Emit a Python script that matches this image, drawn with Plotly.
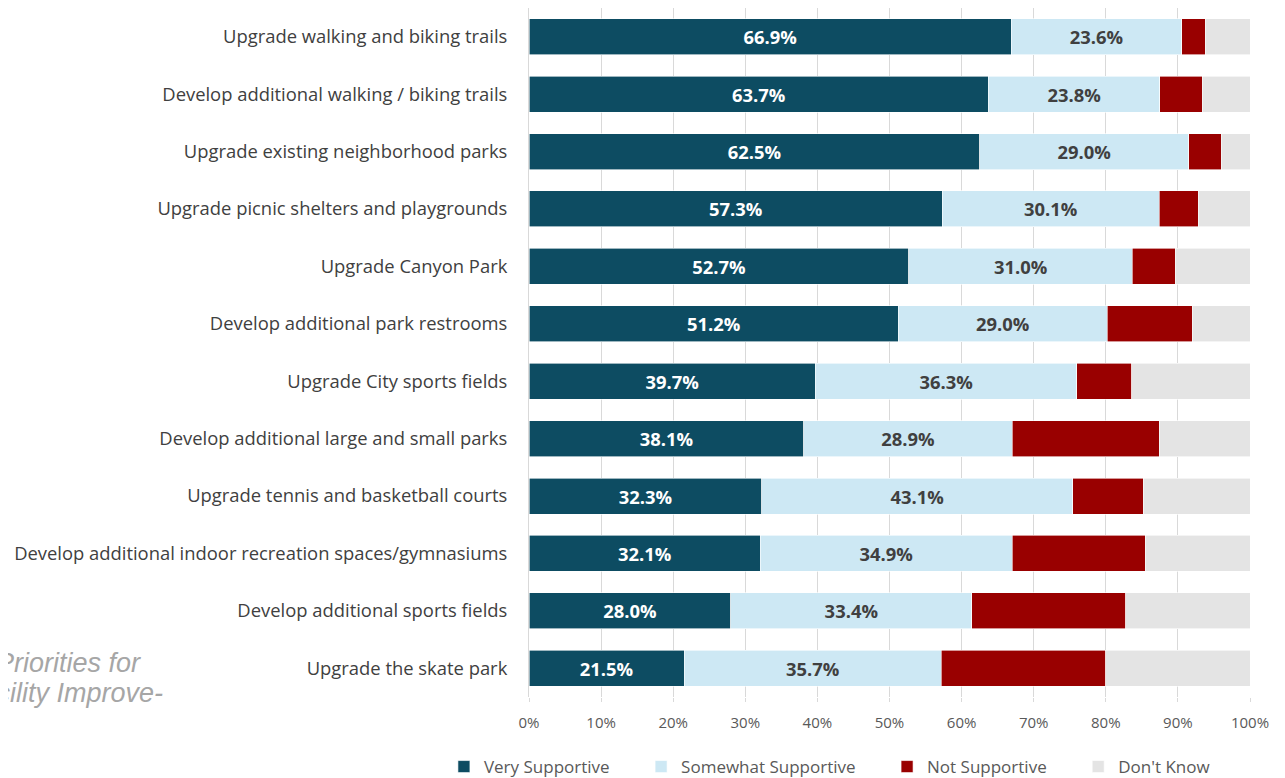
import plotly.graph_objects as go

categories = [
    "Upgrade walking and biking trails",
    "Develop additional walking / biking trails",
    "Upgrade existing neighborhood parks",
    "Upgrade picnic shelters and playgrounds",
    "Upgrade Canyon Park",
    "Develop additional park restrooms",
    "Upgrade City sports fields",
    "Develop additional large and small parks",
    "Upgrade tennis and basketball courts",
    "Develop additional indoor recreation spaces/gymnasiums",
    "Develop additional sports fields",
    "Upgrade the skate park",
]
very_supportive = [66.9, 63.7, 62.5, 57.3, 52.7, 51.2, 39.7, 38.1, 32.3, 32.1, 28.0, 21.5]
somewhat_supportive = [23.6, 23.8, 29.0, 30.1, 31.0, 29.0, 36.3, 28.9, 43.1, 34.9, 33.4, 35.7]
not_supportive = [3.3, 5.9, 4.5, 5.4, 5.9, 11.8, 7.6, 20.4, 9.8, 18.5, 21.4, 22.8]
dont_know = [6.2, 6.6, 4.0, 7.2, 10.4, 8.0, 16.4, 12.6, 14.8, 14.5, 17.2, 20.0]
tick_vals = [0, 10, 20, 30, 40, 50, 60, 70, 80, 90, 100]
tick_text = [f"{v}%" for v in tick_vals]
side_text = ["Priorities for", "Facility Improve-"]

NB = "\u00a0" * 6
series = [
    ("Very Supportive", very_supportive, "#0D4C62", "white", True),
    ("Somewhat Supportive", somewhat_supportive, "#CDE8F4", "#404040", True),
    ("Not Supportive", not_supportive, "#990000", "white", False),
    ("Don't Know", dont_know, "#E4E4E4", "#404040", False),
]

fig = go.Figure()
for name, vals, color, tcolor, show in series:
    fig.add_trace(go.Bar(
        y=categories, x=vals, name=name + NB, orientation="h",
        marker=dict(color=color, line=dict(color="white", width=0.6)),
        text=[f"{v:.1f}%" for v in vals] if show else None,
        textposition="inside" if show else "none",
        insidetextanchor="middle",
        textfont=dict(family="Open Sans", size=18.4, color=tcolor, weight="bold"),
        hovertemplate=name + ": %{x:.1f}%<extra></extra>",
    ))

fig.add_annotation(
    text=side_text[0], xref="paper", yref="paper", x=-0.5355, y=0.0493,
    xanchor="right", yanchor="middle", showarrow=False,
    font=dict(family="Liberation Sans", size=27, color="#A6A6A6", style="italic"),
)
fig.add_annotation(
    text=side_text[1], xref="paper", yref="paper", x=-0.505, y=0.0058,
    xanchor="right", yanchor="middle", showarrow=False,
    font=dict(family="Liberation Sans", size=27, color="#A6A6A6", style="italic"),
)

fig.update_layout(
    barmode="stack",
    bargap=0.373,
    width=1277, height=770,
    margin=dict(l=521, r=35, t=0, b=81, autoexpand=False),
    paper_bgcolor="white", plot_bgcolor="white",
    font=dict(family="Open Sans", color="#404040"),
    showlegend=True,
    legend=dict(
        orientation="h", x=-0.118, xanchor="left", y=-0.1016, yanchor="middle",
        font=dict(family="Open Sans", size=17, color="#595959"),
        traceorder="normal", itemwidth=30,
    ),
    xaxis=dict(
        range=[0, 100], tickvals=tick_vals, ticktext=tick_text,
        showgrid=True, gridcolor="#D9D9D9", gridwidth=1,
        ticks="outside", ticklen=4, tickcolor="#D9D9D9",
        ticklabelstandoff=8,
        tickfont=dict(family="Open Sans", size=15, color="#595959"),
        zeroline=False, showline=False, fixedrange=True,
    ),
    yaxis=dict(
        autorange="reversed", showline=True, linecolor="#D9D9D9", linewidth=1,
        ticks="", ticklabelstandoff=17,
        tickfont=dict(family="Open Sans", size=18.4, color="#404040"),
        showgrid=False, fixedrange=True,
    ),
)

fig.write_html("out.html")
